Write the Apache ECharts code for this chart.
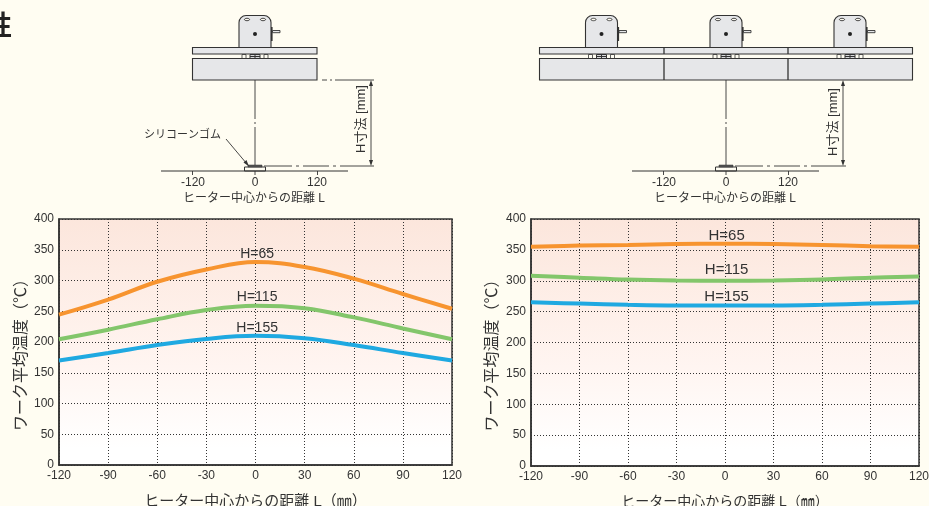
<!DOCTYPE html>
<html><head><meta charset="utf-8">
<style>html,body{margin:0;padding:0;background:#fffdf2;overflow:hidden}#c{width:929px;height:506px}</style>
<script src="https://cdn.jsdelivr.net/npm/echarts@6/dist/echarts.min.js"></script></head>
<body><div id="c"></div><script>
const positions = [-120,-90,-60,-30,0,30,60,90,120];
const leftH65  = [244.5,269,298,318,330,322,303,278,254];
const leftH115 = [204.5,220,237,252,259,255,240,222,204.5];
const leftH155 = [170,182,195,205,210,206,195,182,170];
const rightH65  = [355,357,358,359.5,360,359.5,358,356,355];
const rightH115 = [308,305,302,300.5,300,300.5,302,305,307];
const rightH155 = [265,263,261,260,260,260,261,263,265];
const seriesNames = ['H=65','H=115','H=155'];
const seriesColors = ['#f7942f','#83c66b','#1fa9e1'];
const leftLabelY = [343,273,222.5];
const rightLabelY = [373,317,274];
const yName = 'ワーク平均温度（℃）';
const xName = 'ヒーター中心からの距離 L（㎜）';
const schemName = 'ヒーター中心からの距離 L';
const dimName = 'H寸法 [mm]';
const rubberName = 'シリコーンゴム';

const FONT = '"Liberation Sans","Noto Sans CJK JP",sans-serif';
const INK = '#333';
const el = [];
const line = (x1,y1,x2,y2,w=1,dash=null,c=INK)=>el.push({type:'line',silent:true,shape:{x1,y1,x2,y2},style:{stroke:c,lineWidth:w,lineDash:dash||undefined}});
const rect = (x,y,width,height,fill,w=1,r=0)=>el.push({type:'rect',silent:true,shape:{x,y,width,height,r},style:{fill,stroke:INK,lineWidth:w}});
const text = (x,y,t,size,align='center',rotation=0,color='#333',weight='')=>el.push({type:'text',silent:true,x,y,rotation,style:{text:t,fill:color,font:weight+' '+size+'px '+FONT,align,verticalAlign:'middle'}});
const tri = (pts)=>el.push({type:'polygon',silent:true,shape:{points:pts},style:{fill:INK}});

function bracket(cx){
  rect(cx-16,15.5,32,32,'#e6e7e9',1.1,[7,7,0,0]);
  el.push({type:'ellipse',silent:true,shape:{cx:cx-8,cy:19.5,rx:2.6,ry:1.2},style:{fill:'#fffdf2',stroke:INK,lineWidth:.9}});
  el.push({type:'ellipse',silent:true,shape:{cx:cx+8,cy:19.5,rx:2.6,ry:1.2},style:{fill:'#fffdf2',stroke:INK,lineWidth:.9}});
  el.push({type:'circle',silent:true,shape:{cx,cy:34,r:2},style:{fill:'#222'}});
  line(cx+16.8,27,cx+16.8,41,1.6);
  rect(cx+17.5,30.5,7.5,2.2,'#e6e7e9',.9);
  rect(cx-13,54.5,4,4,'#fffdf2',.8);
  rect(cx+9,54.5,4,4,'#fffdf2',.8);
  rect(cx-5,54.5,10,4,'#d8d9db',1);
  line(cx-5,56.5,cx+5,56.5,1);
  line(cx,54.5,cx,58.5,1);
}
function schematic(cx,plateL,plateR,dividers,brackets,dimX,dimTextX,dimTextY,dashTop){
  brackets.forEach(bracket);
  rect(plateL,47.5,plateR-plateL,6.5,'#e6e7e9',1.1);
  rect(plateL,58.5,plateR-plateL,21.5,'#e6e7e9',1.1);
  dividers.forEach(d=>{line(d,47.5,d,54,1.3);line(d,58.5,d,80,1.3);});
  line(cx,80,cx,119,.9); line(cx,122,cx,124,.9); line(cx,127,cx,165,.9);
  if(dashTop){line(plateR+5,80,plateR+10,80,.9);line(plateR+13,80,plateR+15,80,.9);line(plateR+18,80,dimX+3,80,.9);}
  line(cx+9,166,cx+37,166,.9);line(cx+41,166,cx+44,166,.9);line(cx+48,166,cx+74,166,.9);line(cx+78,166,cx+81,166,.9);line(cx+85,166,dimX+3,166,.9);
  line(dimX,84,dimX,162,.9);
  tri([[dimX,80],[dimX-2,86],[dimX+2,86]]);
  tri([[dimX,166],[dimX-2,160],[dimX+2,160]]);
  text(dimTextX,dimTextY,dimName,13,'center',Math.PI/2);
  rect(cx-10.5,167,21,4,'#fffdf2',1);
  rect(cx-7,165,14,2,'#555',.5);
  line(cx-94,171,cx+93,171,1);
  [cx-62.5,cx,cx+62.5].forEach(x=>line(x,171,x,175,.9));
  text(cx-62,182.5,'-120',12);text(cx,182.5,'0',12);text(cx+62,182.5,'120',12);
  text(cx-1,199,schemName,12);
}
schematic(255,192.5,317,[],[255],371,361,119,true);
schematic(726,539.5,912.5,[664,788],[601.5,726,850],843,833,122,false);
text(182.5,135,rubberName,11);
line(226,139,247,164,.9);
tri([[249,166.5],[243.5,162.5],[246.5,160]]);
text(-15,28,'性',27,'left',0,'#222','bold');

const grad = ()=>new echarts.graphic.LinearGradient(0,0,0,1,[
  {offset:0,color:'#fce6dc'},{offset:.6,color:'#fff5f1'},{offset:.93,color:'#ffffff'},{offset:1,color:'#ffffff'}]);
const axisLabel = {color:'#333',fontSize:12,fontFamily:FONT};
function grid(left,top,width,height){return {left,top,width,height,outerBoundsMode:'none',show:true,backgroundColor:grad(),borderColor:'#333',borderWidth:1.5,z:0};}
function xAxis(i,fs){return {type:'value',gridIndex:i,min:-120,max:120,interval:30,name:xName,nameLocation:'middle',nameGap:29,
  nameTextStyle:{color:'#333',fontSize:fs,fontFamily:FONT},
  axisLine:{show:true,onZero:false,lineStyle:{color:'#333',width:1.5}},axisTick:{show:false},
  axisLabel:{...axisLabel,margin:5,showMinLabel:true,showMaxLabel:true},
  splitLine:{show:true,lineStyle:{color:'#333',type:[1,2],width:1}}};}
function yAxis(i,gap){return {type:'value',gridIndex:i,min:0,max:400,interval:50,name:yName,nameLocation:'middle',nameGap:gap,
  nameTextStyle:{color:'#333',fontSize:16,fontFamily:FONT,padding:[0,0,0,-18]},
  axisLine:{show:true,onZero:false,lineStyle:{color:'#333',width:1.5}},axisTick:{show:false},
  axisLabel:{...axisLabel,margin:5},
  splitLine:{show:true,lineStyle:{color:'#333',type:[1,2],width:1}}};}
function series(i,arrs,labelY,fs){return arrs.map((a,k)=>({type:'line',name:seriesNames[k],xAxisIndex:i,yAxisIndex:i,smooth:.4,showSymbol:false,
  data:a.map((v,j)=>[positions[j],v]),lineStyle:{color:seriesColors[k],width:4},itemStyle:{color:seriesColors[k]},z:3,
  markPoint:{silent:true,symbol:'circle',symbolSize:0,data:[{coord:[1,labelY[k]],value:seriesNames[k]}],
    label:{show:true,position:'inside',formatter:seriesNames[k],color:'#333',fontSize:fs,fontFamily:FONT}}}));}

const chart = echarts.init(document.getElementById('c'),null,{renderer:'canvas'});
chart.setOption({
  animation:false,backgroundColor:'#fffdf2',textStyle:{fontFamily:FONT},
  grid:[grid(59,219,393,246),grid(531,219,388,247)],
  xAxis:[xAxis(0,15),xAxis(1,14)],yAxis:[yAxis(0,28),yAxis(1,30)],
  series:[...series(0,[leftH65,leftH115,leftH155],leftLabelY,14),...series(1,[rightH65,rightH115,rightH155],rightLabelY,15)],
  graphic:{elements:el}
});
</script></body></html>
